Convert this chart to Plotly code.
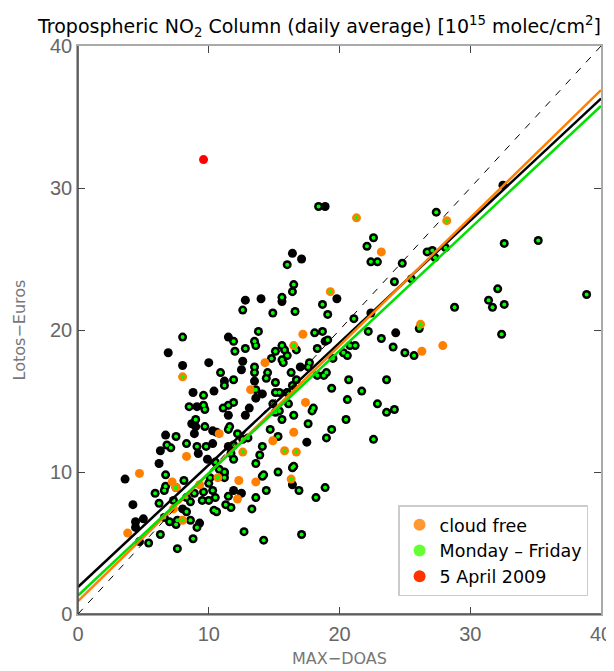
import plotly.graph_objects as go

# Lotos-Euros vs MAX-DOAS, daily averages [1e15 molec/cm2]
# every day (black dots, no weekday/cloud flag)
other_x = [12.8, 14.0, 11.5, 6.9, 12.6, 10.0, 8.0, 12.5, 13.5, 11.2, 10.4, 8.8, 14.1, 13.6,
           9.1, 13.1, 11.5, 12.8, 8.7, 9.0, 10.3, 10.6, 8.9, 6.7, 10.3, 6.3, 9.2, 11.5, 9.9,
           6.2, 11.2, 3.6, 11.9, 12.5, 4.2, 8.0, 5.0, 4.4, 9.3, 4.4, 4.7, 17.0, 17.5, 16.4,
           18.9, 16.4, 17.1, 15.6, 19.8, 22.4, 24.3, 18.9, 32.5]
other_y = [22.1, 22.2, 19.5, 18.4, 17.8, 17.7, 17.5, 17.2, 16.4, 16.4, 15.7, 15.6, 15.5, 15.2,
           14.6, 14.5, 14.0, 14.0, 13.4, 13.2, 12.9, 12.8, 12.7, 12.6, 12.0, 11.5, 11.3, 11.8, 10.9,
           10.6, 9.9, 9.5, 8.7, 8.5, 7.7, 7.4, 6.7, 6.5, 6.4, 6.1, 5.1, 17.4, 12.1, 9.1,
           28.7, 25.4, 25.0, 22.0, 22.2, 21.2, 19.8, 19.2, 30.2]

# Monday - Friday (not cloud free)
weekday_x = [12.6, 14.9, 13.8, 8.0, 11.9, 13.5, 13.6, 12.8, 12.0, 15.1, 14.8, 13.5, 14.5, 13.5,
             10.9, 14.4, 11.9, 11.2, 15.1, 13.6, 9.6, 15.1, 8.5, 9.6, 9.7, 11.5, 11.9, 11.1,
             14.9, 9.0, 9.7, 11.6, 11.5, 7.5, 14.7, 15.1, 6.8, 7.1, 8.3, 9.1, 9.8, 11.7, 12.6,
             12.2, 14.1, 13.9, 13.6, 11.9, 10.5, 10.8, 11.2, 6.7, 8.1, 10.1, 10.0, 11.2, 14.2,
             14.4, 5.9, 6.6, 6.7, 7.5, 8.9, 9.6, 10.3, 10.5, 10.0, 9.5, 11.5, 13.6, 6.2, 7.3,
             8.3, 8.6, 11.3, 11.7, 10.4, 10.6, 13.3, 8.3, 6.6, 7.0, 7.6, 7.5, 8.6, 9.1, 6.3,
             8.8, 12.7, 14.2, 5.4, 7.6, 17.6, 16.3, 15.7, 15.4, 16.0, 16.4, 18.3, 19.0, 20.7,
             23.6, 19.4, 21.7, 20.6, 22.9, 23.6, 24.2, 20.5, 19.4, 19.0, 22.6, 16.1, 15.4, 16.5,
             15.6, 17.9, 18.0, 17.6, 15.3, 13.0, 11.9, 16.5, 16.4, 15.3, 14.1, 16.9, 18.9, 18.2,
             17.1, 18.4, 27.4, 16.0, 22.6, 22.1, 22.4, 22.9, 24.8, 26.7, 27.1, 27.3, 28.1, 25.5,
             24.2, 16.5, 16.4, 15.6, 18.7, 16.6, 19.1, 28.8, 21.1, 26.1, 18.7, 18.1, 22.2, 23.2,
             15.6, 15.8, 16.0, 15.6, 16.7, 19.1, 18.3, 20.3, 20.6, 20.8, 21.2, 24.1, 25.0, 25.7,
             19.5, 17.7, 18.8, 16.7, 32.6, 35.2, 32.1, 31.4, 31.7, 32.6, 38.9, 32.4]
weekday_y = [21.4, 21.2, 19.9, 19.5, 19.2, 19.2, 18.9, 18.7, 18.5, 18.5, 18.0, 17.4, 17.0, 17.0,
             17.0, 16.6, 16.5, 16.1, 16.3, 15.8, 15.4, 15.6, 14.6, 14.7, 14.4, 14.7, 14.9, 14.5,
             14.8, 13.7, 13.2, 13.2, 13.0, 12.5, 13.0, 14.2, 11.9, 11.7, 12.0, 11.8, 11.8, 11.3, 12.3,
             12.7, 11.8, 11.2, 10.6, 10.9, 10.7, 10.2, 10.0, 9.8, 9.4, 9.6, 9.2, 9.6, 9.8,
             8.7, 8.5, 8.7, 9.0, 8.9, 8.5, 8.6, 8.7, 8.2, 8.0, 8.0, 8.3, 8.2, 7.8, 8.0,
             8.2, 7.9, 7.7, 7.5, 7.3, 7.2, 7.4, 7.2, 6.8, 6.5, 6.6, 6.3, 6.6, 6.1, 5.6,
             5.3, 5.8, 5.2, 5.0, 4.6, 17.4, 17.0, 17.7, 15.6, 15.6, 16.1, 16.8, 17.0, 16.5,
             16.5, 15.9, 15.7, 15.1, 14.8, 14.2, 14.4, 13.7, 13.0, 12.4, 12.3, 14.8, 14.3, 14.0,
             13.7, 14.3, 14.5, 13.4, 12.5, 12.4, 11.9, 10.4, 10.3, 10.0, 9.7, 8.7, 8.9, 8.2,
             5.6, 28.7, 28.3, 24.6, 26.5, 25.9, 24.8, 24.8, 24.7, 25.5, 25.6, 25.1, 25.8, 23.6,
             23.4, 23.2, 22.7, 22.3, 21.8, 21.3, 21.1, 21.6, 20.8, 20.1, 19.9, 19.8, 19.9, 19.4,
             18.9, 18.6, 18.2, 17.9, 18.6, 19.3, 18.7, 18.4, 18.2, 18.9, 18.9, 18.8, 18.4, 18.2,
             18.0, 17.7, 16.8, 16.5, 26.1, 26.3, 22.9, 22.1, 21.6, 21.8, 22.5, 19.7]

# cloud free (not Monday - Friday)
cloud_x = [14.3, 13.2, 10.8, 8.3, 4.7, 7.2, 12.3, 9.3, 12.2, 7.3, 3.8, 17.4, 16.5, 14.9,
           13.6, 23.2, 17.2, 26.3, 27.9]
cloud_y = [17.7, 15.8, 12.7, 11.1, 9.9, 9.3, 9.4, 9.1, 8.1, 7.4, 5.7, 14.9, 12.8, 12.2,
           9.3, 25.5, 19.7, 18.5, 18.9]

# cloud free and Monday - Friday
both_x = [8.0, 7.5, 10.7, 8.0, 12.6, 15.8, 16.7, 16.3, 21.3, 28.2, 19.3, 26.2, 16.5]
both_y = [16.7, 8.9, 9.6, 6.6, 11.4, 11.5, 11.4, 9.5, 27.9, 27.7, 22.7, 20.4, 18.9]

# 5 April 2009
april_x = [9.6]
april_y = [32.0]

# linear fits: all days, cloud free, Monday - Friday
fit_names = ["all", "cloud free", "Monday - Friday"]
fit_intercept = [1.9, 0.9, 1.3]
fit_slope = [0.86, 0.90, 0.862]
fit_colors = ["black", "#ff7f00", "#00e000"]

x_range = [0, 40]

fig = go.Figure()

# black base dots for every non cloud-free day
fig.add_trace(go.Scatter(
    x=other_x + weekday_x, y=other_y + weekday_y, mode="markers",
    marker=dict(color="black", size=9), showlegend=False, hoverinfo="skip"))
fig.add_trace(go.Scatter(
    x=cloud_x + both_x, y=cloud_y + both_y, mode="markers",
    marker=dict(color="#ff8000", size=9), showlegend=False, hoverinfo="skip"))
fig.add_trace(go.Scatter(
    x=weekday_x + both_x, y=weekday_y + both_y, mode="markers",
    marker=dict(color="#00ff00", size=4), showlegend=False, hoverinfo="skip"))
fig.add_trace(go.Scatter(
    x=april_x, y=april_y, mode="markers",
    marker=dict(color="#ff0000", size=9), showlegend=False))

# 1:1 line
fig.add_trace(go.Scatter(
    x=x_range, y=x_range, mode="lines",
    line=dict(color="black", width=1, dash="7px,8px"), showlegend=False))

for name, a, b, c in zip(fit_names, fit_intercept, fit_slope, fit_colors):
    fig.add_trace(go.Scatter(
        x=x_range, y=[a + b * v for v in x_range], mode="lines", name=name,
        line=dict(color=c, width=2.5), showlegend=False))

# legend entries
for label, c in [("cloud free", "#ff9933"), ("Monday \u2013 Friday", "#66ff33"),
                 ("5 April 2009", "#ff3300")]:
    fig.add_trace(go.Scatter(x=[None], y=[None], mode="markers", name=label,
                             marker=dict(color=c, size=12)))

axis_font = dict(family="Liberation Sans", size=20, color="#666666")
title_font = dict(family="DejaVu Sans", size=16, color="#777777")
fig.update_xaxes(
    range=x_range, tickvals=[0, 10, 20, 30, 40], ticks="inside", ticklen=7,
    tickcolor="#444", showgrid=False, zeroline=False, showline=True,
    linecolor="#aaaaaa", linewidth=1.5, mirror="ticks", tickfont=axis_font,
    automargin=False, ticklabelstandoff=1,
    title=dict(text="MAX\u2212DOAS", font=title_font, standoff=9))
fig.update_yaxes(
    range=x_range, tickvals=[0, 10, 20, 30, 40], ticks="inside", ticklen=7,
    tickcolor="#444", showgrid=False, zeroline=False, showline=True,
    linecolor="#aaaaaa", linewidth=1.5, mirror="ticks", tickfont=axis_font,
    automargin=False, ticklabelstandoff=0,
    title=dict(text="Lotos\u2212Euros", font=title_font, standoff=20))

# darker left and bottom axis lines
fig.add_shape(type="line", xref="paper", yref="paper", x0=0, x1=0, y0=0, y1=1,
              line=dict(color="#444444", width=1.5))
fig.add_shape(type="line", xref="paper", yref="paper", x0=0, x1=1, y0=0, y1=0,
              line=dict(color="#444444", width=1.5))

# page body adds an 8px offset, so the figure is a bit smaller than the window
fig.update_layout(
    width=606, height=663,
    margin=dict(l=70, r=13, t=38, b=57),
    plot_bgcolor="white", paper_bgcolor="white",
    title=dict(
        text="Tropospheric NO<sub>2</sub> Column (daily average) [10<sup>15</sup> molec/cm<sup>2</sup>]",
        font=dict(family="DejaVu Sans", size=19, color="black"),
        xref="container", x=0.0495, xanchor="left", y=0.973, yanchor="middle"),
    legend=dict(x=0.612, y=0.031, xanchor="left", yanchor="bottom",
                bordercolor="#cccccc", borderwidth=1.5, bgcolor="white",
                font=dict(family="DejaVu Sans", size=17.5, color="black"),
                tracegroupgap=0, itemsizing="constant", itemwidth=30),
)

fig.write_html("out.html")
